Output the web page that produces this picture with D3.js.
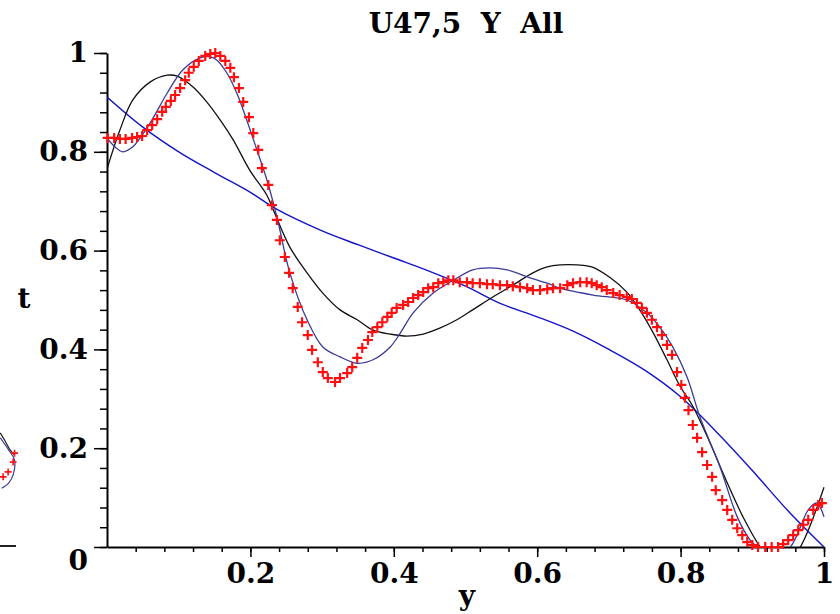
<!DOCTYPE html>
<html>
<head>
<meta charset="utf-8">
<script src="https://cdn.jsdelivr.net/npm/d3@7"></script>
<style>
  body { margin: 0; background: #fff; }
  svg { display: block; }
  .lbl { font-family: "DejaVu Serif", serif; font-weight: bold; fill: #000; }
</style>
</head>
<body>
<svg width="840" height="614"></svg>
<script>
// values, [y, t]
const titleText = "U47,5  Y  All";
const xTicks = [0.2, 0.4, 0.6, 0.8, 1];
const yTicks = [0, 0.2, 0.4, 0.6, 0.8, 1];
const minorTicks = d3.range(0, 26).map(i => i * 0.04);

// straight-ish blue curve
const blueLine = [[0, 0.911], [0.05, 0.850], [0.1, 0.800], [0.15, 0.758], [0.2, 0.718], [0.234, 0.686],
  [0.3, 0.640], [0.35, 0.612], [0.4, 0.585], [0.45, 0.558], [0.5, 0.528], [0.55, 0.492], [0.6, 0.466],
  [0.65, 0.437], [0.7, 0.400], [0.75, 0.358], [0.8, 0.304], [0.85, 0.233], [0.9, 0.155], [0.95, 0.073], [1.0, 0.0]];

// wiggly navy curve (close to the markers)
const navyLine = [[0, 0.828], [0.011, 0.810], [0.022, 0.800], [0.036, 0.810], [0.060, 0.858], [0.084, 0.919],
  [0.106, 0.966], [0.130, 0.990], [0.144, 0.992], [0.153, 0.986], [0.167, 0.960], [0.181, 0.919], [0.195, 0.864],
  [0.209, 0.804], [0.223, 0.743], [0.237, 0.668], [0.255, 0.555], [0.279, 0.460], [0.301, 0.405], [0.325, 0.385],
  [0.349, 0.372], [0.371, 0.379], [0.395, 0.405], [0.409, 0.433], [0.427, 0.474], [0.455, 0.514], [0.483, 0.540],
  [0.510, 0.561], [0.534, 0.565], [0.558, 0.561], [0.590, 0.545], [0.614, 0.534], [0.632, 0.524], [0.678, 0.510],
  [0.725, 0.500], [0.753, 0.474], [0.771, 0.445], [0.789, 0.405], [0.809, 0.344], [0.827, 0.263], [0.855, 0.162],
  [0.879, 0.061], [0.897, 0.014], [0.907, 0.0], [0.927, -0.025], [0.953, 0.0], [0.967, 0.040], [0.978, 0.075],
  [0.990, 0.089], [1.0, 0.061]];

// black curve
const blackLine = [[0, 0.765], [0.018, 0.844], [0.036, 0.905], [0.060, 0.941], [0.084, 0.955], [0.098, 0.953],
  [0.120, 0.931], [0.139, 0.901], [0.158, 0.864], [0.176, 0.824], [0.199, 0.763], [0.223, 0.712], [0.232, 0.682],
  [0.255, 0.607], [0.279, 0.555], [0.301, 0.514], [0.325, 0.480], [0.349, 0.460], [0.371, 0.439], [0.395, 0.431],
  [0.418, 0.427], [0.441, 0.431], [0.464, 0.443], [0.488, 0.460], [0.510, 0.480], [0.538, 0.506], [0.566, 0.530],
  [0.594, 0.555], [0.614, 0.567], [0.632, 0.571], [0.656, 0.571], [0.676, 0.567], [0.702, 0.545], [0.725, 0.516],
  [0.743, 0.480], [0.762, 0.433], [0.781, 0.379], [0.799, 0.326], [0.817, 0.285], [0.841, 0.211], [0.865, 0.130],
  [0.887, 0.061], [0.911, 0.0], [0.94, -0.05], [0.967, 0.0], [1.0, 0.121]];

// red "+" data points
const redPoints = [[0.001, 0.828], [0.010, 0.828], [0.018, 0.826], [0.026, 0.826], [0.035, 0.828], [0.042, 0.830],
  [0.049, 0.832], [0.056, 0.844], [0.063, 0.854], [0.070, 0.866], [0.077, 0.881], [0.082, 0.891], [0.089, 0.903],
  [0.095, 0.915], [0.102, 0.929], [0.109, 0.945], [0.114, 0.960], [0.121, 0.972], [0.128, 0.984], [0.137, 0.994],
  [0.144, 0.998], [0.151, 1.000], [0.158, 0.994], [0.165, 0.984], [0.172, 0.970], [0.177, 0.951], [0.184, 0.929],
  [0.190, 0.901], [0.198, 0.870], [0.204, 0.838], [0.211, 0.804], [0.216, 0.767], [0.225, 0.733], [0.230, 0.692],
  [0.237, 0.662], [0.241, 0.621], [0.248, 0.587], [0.254, 0.555], [0.259, 0.524], [0.266, 0.486], [0.272, 0.455],
  [0.280, 0.429], [0.286, 0.399], [0.294, 0.374], [0.301, 0.354], [0.308, 0.342], [0.318, 0.334], [0.325, 0.342],
  [0.335, 0.352], [0.342, 0.364], [0.349, 0.383], [0.356, 0.403], [0.364, 0.419], [0.370, 0.435], [0.377, 0.445],
  [0.384, 0.455], [0.391, 0.466], [0.397, 0.474], [0.404, 0.484], [0.413, 0.490], [0.420, 0.496], [0.427, 0.504],
  [0.434, 0.510], [0.441, 0.516], [0.448, 0.524], [0.455, 0.526], [0.462, 0.534], [0.469, 0.536], [0.476, 0.540],
  [0.483, 0.540], [0.492, 0.536], [0.502, 0.536], [0.510, 0.534], [0.520, 0.534], [0.530, 0.532], [0.538, 0.532],
  [0.548, 0.530], [0.558, 0.530], [0.566, 0.528], [0.576, 0.526], [0.586, 0.524], [0.594, 0.520], [0.604, 0.520],
  [0.614, 0.522], [0.622, 0.524], [0.632, 0.524], [0.642, 0.530], [0.650, 0.534], [0.660, 0.536], [0.669, 0.536],
  [0.676, 0.534], [0.683, 0.530], [0.690, 0.526], [0.697, 0.520], [0.706, 0.514], [0.715, 0.510], [0.725, 0.506],
  [0.732, 0.502], [0.739, 0.494], [0.746, 0.484], [0.753, 0.474], [0.760, 0.460], [0.767, 0.445], [0.774, 0.429],
  [0.781, 0.409], [0.788, 0.389], [0.795, 0.354], [0.801, 0.328], [0.806, 0.302], [0.811, 0.277], [0.817, 0.247],
  [0.823, 0.221], [0.830, 0.192], [0.837, 0.166], [0.844, 0.142], [0.849, 0.115], [0.858, 0.095], [0.865, 0.075],
  [0.872, 0.055], [0.879, 0.038], [0.886, 0.024], [0.893, 0.010], [0.900, 0.004], [0.908, 0.0], [0.918, 0.0],
  [0.927, 0.0], [0.936, 0.0], [0.943, 0.006], [0.950, 0.014], [0.957, 0.024], [0.964, 0.034], [0.971, 0.045],
  [0.978, 0.055], [0.985, 0.075], [0.992, 0.085], [0.997, 0.089]];

// bit of the neighbouring plot showing at the left edge
const fragBlack = [[0.978, 0.231], [0.985, 0.214], [0.992, 0.196], [0.998, 0.186]];
const fragNavy = [[0.978, 0.221], [0.990, 0.196], [0.998, 0.176], [0.996, 0.146], [0.990, 0.130], [0.980, 0.119]];
const fragRed = [[0.982, 0.142], [0.989, 0.152], [0.996, 0.172], [0.998, 0.190]];

const svg = d3.select('svg');

const x = d3.scaleLinear().domain([0, 1]).range([107, 824]);
const y = d3.scaleLinear().domain([0, 1]).range([547, 53]);
// neighbour plot, same size, its right edge at px 16
const xFrag = d3.scaleLinear().domain([0, 1]).range([16 - 717, 16]);

const line = d3.line().x(d => x(d[0])).y(d => y(d[1])).curve(d3.curveCatmullRom);
const fragLine = d3.line().x(d => xFrag(d[0])).y(d => y(d[1])).curve(d3.curveCatmullRom);

svg.append('defs').append('clipPath').attr('id', 'plotclip')
  .append('rect').attr('x', x(0)).attr('y', 30).attr('width', x(1) - x(0) + 3).attr('height', y(0) - 30);

// title
svg.append('text').attr('class', 'lbl')
  .attr('x', 466).attr('y', 33)
  .attr('text-anchor', 'middle')
  .style('font-size', '28px')
  .style('white-space', 'pre')
  .text(titleText);

// minor ticks first, majors drawn over them
svg.append('g').attr('transform', `translate(${x(0)},0)`)
  .call(d3.axisLeft(y).tickValues(minorTicks.filter(v => v <= 1.0001)).tickSize(7).tickSizeOuter(0).tickFormat(''))
  .call(g => g.select('.domain').remove())
  .selectAll('line').attr('stroke-width', 1.5);

svg.append('g').attr('transform', `translate(0,${y(0)})`)
  .call(d3.axisBottom(x).tickValues(minorTicks.filter(v => v > 0 && v <= 1.0001)).tickSize(5).tickSizeOuter(0).tickFormat(''))
  .call(g => g.select('.domain').remove())
  .selectAll('line').attr('stroke-width', 1.5);

const yAxis = svg.append('g').attr('transform', `translate(${x(0)},0)`)
  .call(d3.axisLeft(y).tickValues(yTicks).tickSize(13).tickSizeOuter(0).tickPadding(6)
    .tickFormat(d => d === 0 ? '' : String(d)));
yAxis.select('.domain').attr('stroke-width', 2);
yAxis.selectAll('line').attr('stroke-width', 1.5);
yAxis.selectAll('text').attr('class', 'lbl').style('font-size', '28px').attr('font-family', null);

const xAxis = svg.append('g').attr('transform', `translate(0,${y(0)})`)
  .call(d3.axisBottom(x).tickValues(xTicks).tickSize(10).tickSizeOuter(0).tickPadding(6)
    .tickFormat(d => String(d)));
xAxis.select('.domain').attr('stroke-width', 2);
xAxis.selectAll('line').attr('stroke-width', 1.5);
xAxis.selectAll('text').attr('class', 'lbl').style('font-size', '28px').attr('font-family', null);

// the origin "0" sits below the corner
svg.append('text').attr('class', 'lbl')
  .attr('x', 88).attr('y', 570).attr('text-anchor', 'end')
  .style('font-size', '28px').text('0');

// axis names
svg.append('text').attr('class', 'lbl')
  .attr('x', 24).attr('y', 308).attr('text-anchor', 'middle')
  .style('font-size', '28px').text('t');
svg.append('text').attr('class', 'lbl')
  .attr('x', 467).attr('y', 605).attr('text-anchor', 'middle')
  .style('font-size', '28px').text('y');

// curves
const plot = svg.append('g').attr('clip-path', 'url(#plotclip)');
plot.append('path').datum(blueLine).attr('d', line)
  .attr('fill', 'none').attr('stroke', '#1414c8').attr('stroke-width', 1.4);
plot.append('path').datum(blackLine).attr('d', line)
  .attr('fill', 'none').attr('stroke', '#111').attr('stroke-width', 1.3);
plot.append('path').datum(navyLine).attr('d', line)
  .attr('fill', 'none').attr('stroke', '#3a3a98').attr('stroke-width', 1.3);

// red + markers
svg.append('g').selectAll('path').data(redPoints).join('path')
  .attr('transform', d => `translate(${x(d[0])},${y(d[1])})`)
  .attr('d', 'M-5,0H5M0,-5V5')
  .attr('stroke', '#ff1010').attr('stroke-width', 2.2).attr('fill', 'none');

// left edge fragment
svg.append('line').attr('x1', 0).attr('x2', xFrag(1)).attr('y1', y(0) - 1).attr('y2', y(0) - 1)
  .attr('stroke', '#222').attr('stroke-width', 2);
svg.append('path').datum(fragBlack).attr('d', fragLine)
  .attr('fill', 'none').attr('stroke', '#222').attr('stroke-width', 1.2);
svg.append('path').datum(fragNavy).attr('d', fragLine)
  .attr('fill', 'none').attr('stroke', '#3a3a98').attr('stroke-width', 1.2);
svg.append('g').selectAll('path').data(fragRed).join('path')
  .attr('transform', d => `translate(${xFrag(d[0])},${y(d[1])})`)
  .attr('d', 'M-3.5,0H3.5M0,-3.5V3.5')
  .attr('stroke', '#ff1010').attr('stroke-width', 1.6).attr('fill', 'none');
</script>
</body>
</html>
